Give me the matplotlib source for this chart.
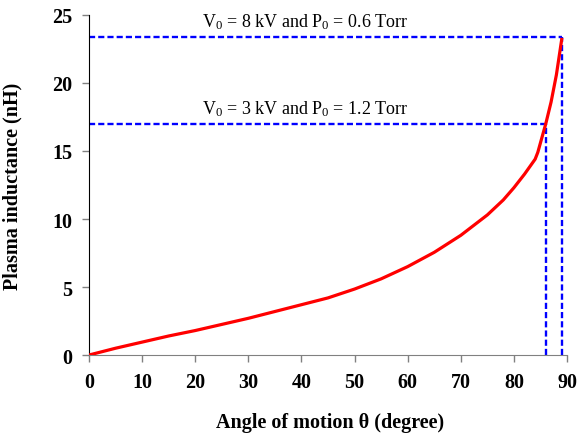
import matplotlib
matplotlib.use('Agg')
import matplotlib.pyplot as plt

# plasma inductance vs angle of motion
angle = [0, 5, 10, 15, 20, 25, 30, 35, 40, 45, 50, 55, 60, 65, 70, 75,
         78, 80, 82, 84, 84.5, 85, 86, 87, 88, 89]
inductance = [0, 0.5, 0.95, 1.4, 1.8, 2.25, 2.7, 3.2, 3.7, 4.2, 4.85, 5.6,
              6.5, 7.55, 8.8, 10.3, 11.4, 12.3, 13.3, 14.4, 14.9, 15.6,
              17.0, 18.6, 20.6, 23.2]

# operating points marked with dashed guides: (angle, inductance, label)
marks = [(89, 23.4, r'V$_0$ = 8 kV and P$_0$ = 0.6 Torr'),
         (86, 17.0, r'V$_0$ = 3 kV and P$_0$ = 1.2 Torr')]

xticks = [0, 10, 20, 30, 40, 50, 60, 70, 80, 90]
yticks = [0, 5, 10, 15, 20, 25]

plt.rcParams['font.family'] = ['Liberation Serif', 'DejaVu Serif']
plt.rcParams['mathtext.fontset'] = 'custom'
plt.rcParams['mathtext.rm'] = 'Liberation Serif'
plt.rcParams['mathtext.it'] = 'Liberation Serif:italic'

fig = plt.figure(figsize=(5.79, 4.39), dpi=100)
ax = fig.add_axes([0.1537, 0.189, 0.8256, 0.7746])

ax.plot(angle, inductance, color='red', lw=2.3, zorder=3)

for xm, ym, label in marks:
    ax.plot([0, xm], [ym, ym], color='blue', lw=1.7, ls=(0, (2.6, 1.3)), zorder=2)
    ax.plot([xm, xm], [0, ym], color='blue', lw=1.7, ls=(0, (2.6, 1.3)), zorder=2)
    ax.text(21.2, ym + 0.75, label, fontsize=13, ha='left', va='baseline')

ax.set_xlim(0, 90)
ax.set_ylim(0, 25)
ax.set_xticks(xticks)
ax.set_yticks(yticks)
ax.tick_params(direction='out', length=5, width=1, colors='#808080',
               labelcolor='black', labelsize=14.5, pad=7)
for lbl in ax.get_xticklabels() + ax.get_yticklabels():
    lbl.set_fontweight('bold')

ax.spines['top'].set_visible(False)
ax.spines['right'].set_visible(False)
ax.spines['left'].set_color('black')
ax.spines['bottom'].set_color('#808080')

ax.set_xlabel('Angle of motion θ (degree)', fontsize=14.5, fontweight='bold', va='center')
ax.set_ylabel('Plasma inductance (nH)', fontsize=14.5, fontweight='bold', va='center')
ax.xaxis.set_label_coords(0.504, -0.197)
ax.yaxis.set_label_coords(-0.16, 0.5)

fig.savefig('out.png', dpi=100)
